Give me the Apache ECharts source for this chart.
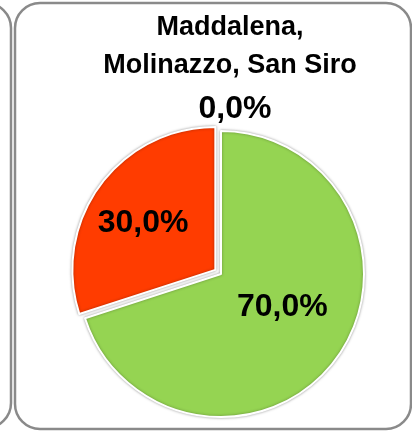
<!DOCTYPE html>
<html>
<head>
<meta charset="utf-8">
<script src="https://cdn.jsdelivr.net/npm/echarts@6/dist/echarts.min.js"></script>
<style>
html,body{margin:0;padding:0;background:#fff;}
#chart{width:412px;height:431px;}
</style>
</head>
<body>
<div id="chart"></div>
<script>
// Data
const chartTitle = "Maddalena,\nMolinazzo, San Siro";
const categories = ["Altro", "Sì", "No"];
const values = [0, 70, 30];

// Styles (kept separate from the data)
const sliceColors = ["#FFC000", "#95D452", "#FF3C00"];
const labelOffsets = [[14, -90], [1, -11], [-12, -3]];
const explode = [false, false, true];

const chart = echarts.init(document.getElementById('chart'), null, {renderer: 'canvas'});

const pieData = values.map((v, i) => ({
  name: categories[i],
  value: v,
  selected: explode[i],
  itemStyle: {
    color: sliceColors[i],
    borderColor: '#ffffff',
    borderWidth: v === 0 ? 0 : 2,
    shadowBlur: 3,
    shadowColor: 'rgba(0,0,0,0.35)'
  }
}));

const option = {
  animation: false,
  title: {
    text: chartTitle,
    left: 230,
    top: 9,
    textAlign: 'center',
    padding: 0,
    textStyle: {
      fontFamily: 'Liberation Sans',
      fontWeight: 'bold',
      fontSize: 27,
      lineHeight: 38,
      color: '#000'
    }
  },
  graphic: [
    {
      type: 'rect', silent: true, z: -1,
      shape: {x: -400, y: 3, width: 411, height: 425, r: 25},
      style: {fill: 'none', stroke: '#8a8a8a', lineWidth: 2.5}
    },
    {
      type: 'rect', silent: true, z: -1,
      shape: {x: 15, y: 3, width: 396, height: 426, r: 25},
      style: {fill: 'none', stroke: '#8a8a8a', lineWidth: 2.5}
    }
  ],
  series: [{
    type: 'pie',
    center: [221, 274],
    radius: 143,
    startAngle: 90,
    clockwise: true,
    selectedMode: 'single',
    selectedOffset: 7,
    avoidLabelOverlap: false,
    emphasis: {disabled: true},
    label: {
      show: true,
      position: 'inside',
      formatter: p => p.value.toFixed(1).replace('.', ',') + '%',
      fontFamily: 'Liberation Sans',
      fontWeight: 'bold',
      fontSize: 32,
      color: '#000'
    },
    labelLayout: p => ({ dx: labelOffsets[p.dataIndex][0], dy: labelOffsets[p.dataIndex][1] }),
    labelLine: {show: false},
    data: pieData
  }]
};
chart.setOption(option);
</script>
</body>
</html>
